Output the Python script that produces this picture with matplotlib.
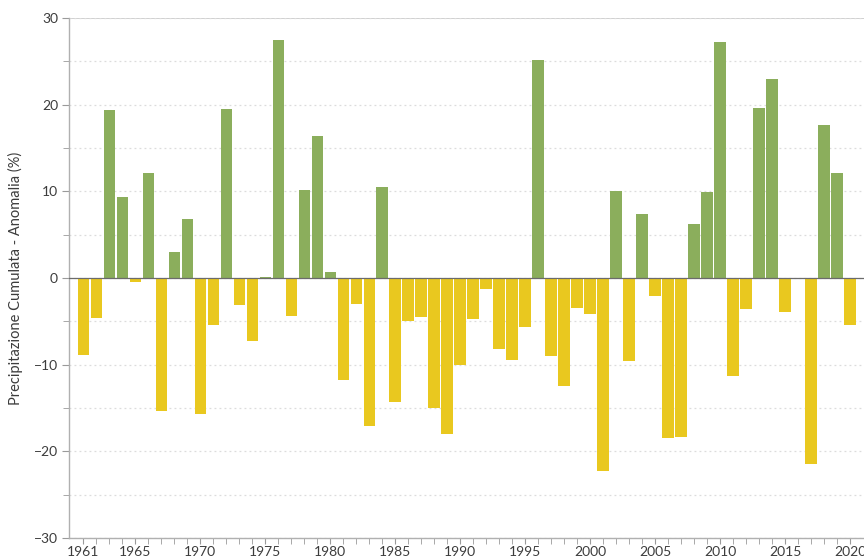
import numpy as np
import matplotlib
matplotlib.use("Agg")
import matplotlib.pyplot as plt
from matplotlib.ticker import MultipleLocator

plt.rcParams["font.family"] = ["Lato", "DejaVu Sans"]

# anomalia delle precipitazioni cumulate annue (%), 1961-2020
years = list(range(1961, 2021))
anomaly = [
    -8.9, -4.6, 19.4, 9.3, -0.4, 12.1, -15.3, 3.0, 6.8, -15.7,   # 1961-1970
    -5.4, 19.5, -3.1, -7.3, 0.1, 27.5, -4.4, 10.1, 16.4, 0.7,    # 1971-1980
    -11.8, -3.0, -17.1, 10.5, -14.3, -5.0, -4.5, -15.0, -18.0, -10.0,  # 1981-1990
    -4.7, -1.3, -8.2, -9.4, -5.6, 25.1, -9.0, -12.5, -3.4, -4.1,  # 1991-2000
    -22.2, 10.0, -9.6, 7.4, -2.1, -18.5, -18.3, 6.2, 9.9, 27.2,   # 2001-2010
    -11.3, -3.6, 19.6, 22.9, -3.9, 0.0, -21.4, 17.7, 12.1, -5.4,  # 2011-2020
]
xticks = [1961, 1965, 1970, 1975, 1980, 1985, 1990, 1995, 2000, 2005, 2010, 2015, 2020]

GREEN = "#8bae5c"
YELLOW = "#e9c81f"

fig = plt.figure(figsize=(8.64, 5.6), dpi=100)
# axes run off the right edge, like the cropped original
ax = fig.add_axes([0.0799, 0.039, 0.928, 0.929])

vals = np.array(anomaly)
colors = [GREEN if v >= 0 else YELLOW for v in vals]
ax.bar(years, vals, width=0.88, color=colors, zorder=3)
ax.axhline(0, color="#6b6b6b", lw=0.9, zorder=4)

ax.set_xlim(1959.9, 2021.6)
ax.set_ylim(-30, 30)
ax.yaxis.set_major_locator(MultipleLocator(10))
ax.yaxis.set_minor_locator(MultipleLocator(5))
ax.set_xticks(xticks)
ax.set_xticks(years, minor=True)
ax.set_xticklabels([str(y) for y in xticks])

ax.grid(axis="y", which="both", color="#dcdcdc", ls=(0, (1.5, 2.5)), lw=0.9, zorder=0)
ax.axhline(30, color="#c8c8c8", lw=1.2, zorder=1)

for s in ("top", "right"):
    ax.spines[s].set_visible(False)
for s in ("left", "bottom"):
    ax.spines[s].set_color("#b0b0b0")
    ax.spines[s].set_linewidth(1.0)

ax.tick_params(axis="both", which="both", colors="#9a9a9a", labelcolor="#3c3c3c",
               labelsize=10)
ax.tick_params(axis="y", which="major", length=5, pad=3)
ax.tick_params(axis="y", which="minor", length=4)
ax.tick_params(axis="x", which="both", length=4, pad=2)

ax.set_ylabel("Precipitazione Cumulata - Anomalia (%)", fontsize=10.5,
              color="#3c3c3c", labelpad=8)

fig.savefig("out.png", dpi=100, facecolor="white")
